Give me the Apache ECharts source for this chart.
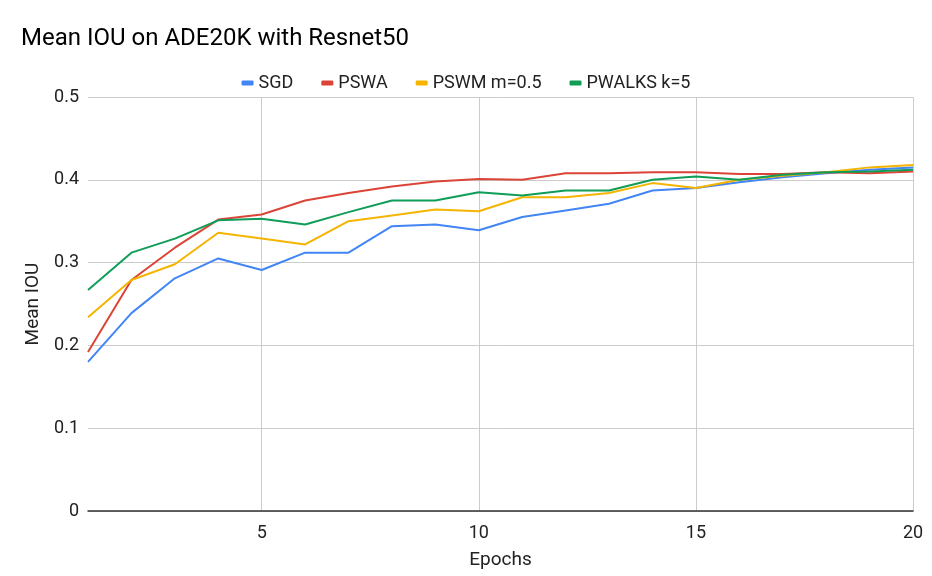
<!DOCTYPE html>
<html>
<head>
<meta charset="utf-8">
<script src="https://cdn.jsdelivr.net/npm/echarts@6/dist/echarts.min.js"></script>
<style>
  html, body { margin: 0; padding: 0; background: #fff; }
  #chart { width: 932px; height: 576px; }
</style>
</head>
<body>
<div id="chart"></div>
<script>
// epochs 1..20
const epochs = [1, 2, 3, 4, 5, 6, 7, 8, 9, 10, 11, 12, 13, 14, 15, 16, 17, 18, 19, 20]
const sgd = [0.180, 0.239, 0.281, 0.305, 0.291, 0.312, 0.312, 0.344, 0.346, 0.339, 0.355, 0.363, 0.371, 0.387, 0.390, 0.397, 0.403, 0.408, 0.412, 0.415]
const pswa = [0.192, 0.279, 0.318, 0.352, 0.358, 0.375, 0.384, 0.392, 0.398, 0.401, 0.400, 0.408, 0.408, 0.409, 0.409, 0.407, 0.407, 0.409, 0.408, 0.410]
const pswm = [0.234, 0.279, 0.298, 0.336, 0.329, 0.322, 0.350, 0.357, 0.364, 0.362, 0.379, 0.379, 0.384, 0.396, 0.390, 0.400, 0.405, 0.409, 0.415, 0.418]
const pwalks = [0.267, 0.312, 0.329, 0.351, 0.353, 0.346, 0.361, 0.375, 0.375, 0.385, 0.381, 0.387, 0.387, 0.400, 0.404, 0.400, 0.406, 0.409, 0.410, 0.412]
const seriesNames = ['SGD', 'PSWA', 'PSWM m=0.5', 'PWALKS k=5']
const colors = ['#4285F4', '#DB4437', '#F4B400', '#0F9D58']

const chart = echarts.init(document.getElementById('chart'))
const font = 'Roboto, Arial, sans-serif'
// only label / grid the multiples of 5
const showEvery5 = (idx, val) => Number(val) % 5 === 0

chart.setOption({
  animation: false,
  color: colors,
  textStyle: { fontFamily: font },
  title: {
    text: 'Mean IOU on ADE20K with Resnet50',
    left: 16,
    top: 22,
    textStyle: { fontFamily: font, fontSize: 24, fontWeight: 'normal', color: '#000' }
  },
  legend: {
    data: seriesNames,
    top: 69,
    left: 'center',
    itemWidth: 12,
    itemHeight: 5,
    itemGap: 28,
    icon: 'roundRect',
    textStyle: { fontFamily: font, fontSize: 18, color: '#222' }
  },
  grid: { left: 88, right: 19, top: 97, bottom: 65, containLabel: false },
  xAxis: {
    type: 'category',
    data: epochs,
    boundaryGap: false,
    name: 'Epochs',
    nameLocation: 'middle',
    nameGap: 40,
    nameTextStyle: { fontFamily: font, fontSize: 19, color: '#222' },
    axisLine: { lineStyle: { color: '#333', width: 1.5 } },
    axisTick: { show: false },
    axisLabel: { interval: showEvery5, fontSize: 18, color: '#222', margin: 13 },
    splitLine: { show: true, interval: showEvery5, lineStyle: { color: '#ccc' } }
  },
  yAxis: {
    type: 'value',
    min: 0,
    max: 0.5,
    interval: 0.1,
    name: 'Mean IOU',
    nameLocation: 'middle',
    nameGap: 43,
    nameTextStyle: { fontFamily: font, fontSize: 19, color: '#222' },
    axisLine: { show: false },
    axisTick: { show: false },
    axisLabel: { fontSize: 18, color: '#222', margin: 9, formatter: v => String(Number(v.toFixed(1))) },
    splitLine: { lineStyle: { color: '#ccc' } }
  },
  series: [sgd, pswa, pswm, pwalks].map((d, i) => ({
    name: seriesNames[i],
    type: 'line',
    data: d,
    showSymbol: false,
    symbol: 'none',
    lineStyle: { width: 2 }
  }))
})
</script>
</body>
</html>
